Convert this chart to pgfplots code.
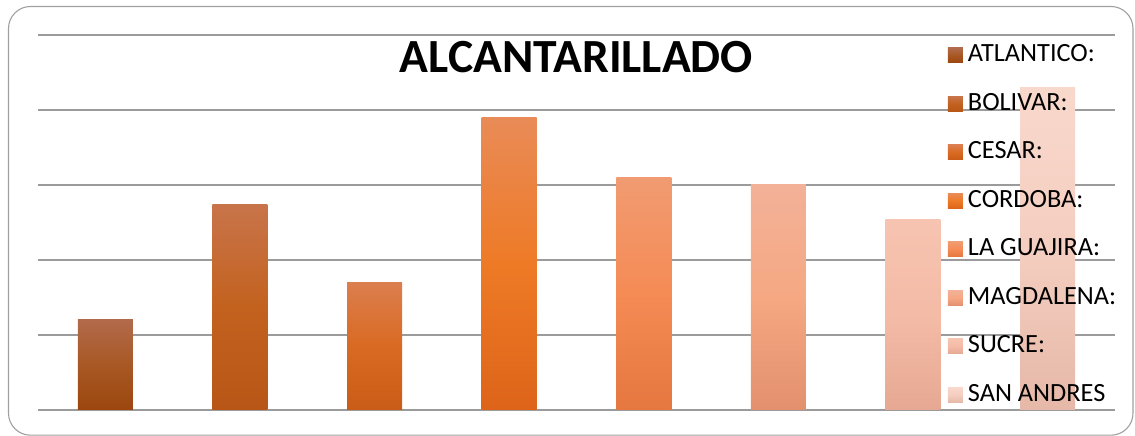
\documentclass[border=0pt]{standalone}
\usepackage{pgfplots}
\pgfplotsset{compat=1.18}
\usepackage{fontspec}
\setmainfont{Carlito}
\definecolor{gridc}{RGB}{155,155,155}
\definecolor{framec}{RGB}{160,160,160}
\definecolor{aT}{RGB}{178,106,75}\definecolor{aM}{RGB}{168,88,36}\definecolor{aB}{RGB}{156,70,14}
\definecolor{bT}{RGB}{200,116,74}\definecolor{bM}{RGB}{195,98,31}\definecolor{bB}{RGB}{184,86,23}
\definecolor{cT}{RGB}{220,126,78}\definecolor{cM}{RGB}{217,106,34}\definecolor{cB}{RGB}{201,92,23}
\definecolor{dT}{RGB}{233,139,87}\definecolor{dM}{RGB}{238,122,38}\definecolor{dB}{RGB}{221,100,25}
\definecolor{eT}{RGB}{241,155,114}\definecolor{eM}{RGB}{245,139,85}\definecolor{eB}{RGB}{229,119,63}
\definecolor{fT}{RGB}{243,177,152}\definecolor{fM}{RGB}{245,168,130}\definecolor{fB}{RGB}{227,144,110}
\definecolor{gT}{RGB}{246,196,177}\definecolor{gM}{RGB}{244,187,166}\definecolor{gB}{RGB}{230,168,147}
\definecolor{hT}{RGB}{249,216,204}\definecolor{hM}{RGB}{244,206,192}\definecolor{hB}{RGB}{230,184,168}
\pgfplotsset{
  grad/.style={fill=none, draw=none, top color=#1T, bottom color=#1B, middle color=#1M, bar shift=0pt, bar width=55pt},
}
\begin{document}
\begin{tikzpicture}[x=1pt,y=1pt]
\path[use as bounding box] (0,0) rectangle (1135,436);
\draw[framec, line width=1.1pt, rounded corners=22pt] (8.5,0.8) rectangle (1133,429.5);
\begin{axis}[
  at={(38pt,26pt)}, anchor=south west,
  scale only axis, width=1077pt, height=375pt,
  xmin=0.5, xmax=8.5, ymin=0, ymax=100,
  ytick={0,20,40,60,80,100}, yticklabels={}, xtick=\empty,
  ymajorgrids, grid style={gridc, line width=1.2pt},
  axis line style={draw=none}, major tick style={draw=none},
  ybar,
  title={ALCANTARILLADO},
  title style={at={(axis description cs:0.5,0.883)}, anchor=base, font=\bfseries\fontsize{47.6}{47.6}\selectfont, inner sep=0pt},
  legend image code/.code={\path[#1, draw=none] (0pt,-8pt) rectangle (15pt,7pt); \path (19pt,0pt);},
  legend cell align=left,
  legend style={draw=none, fill=none, at={(axis description cs:0.842,0.985)}, anchor=north west,
    font=\fontsize{26.3}{26.3}\selectfont, row sep=24.5pt,
    nodes={inner sep=1pt, text height=18pt, text depth=4pt}},
]
\addplot[grad=a] coordinates {(1,24.0)};
\addplot[grad=b] coordinates {(2,54.9)};
\addplot[grad=c] coordinates {(3,33.9)};
\addplot[grad=d] coordinates {(4,77.9)};
\addplot[grad=e] coordinates {(5,61.9)};
\addplot[grad=f] coordinates {(6,60.0)};
\addplot[grad=g] coordinates {(7,50.9)};
\addplot[grad=h] coordinates {(8,85.9)};
\legend{ATLANTICO:, BOLIVAR:, CESAR:, CORDOBA:, LA GUAJIRA:, MAGDALENA:, SUCRE:, SAN ANDRES}
\end{axis}
\end{tikzpicture}
\end{document}
